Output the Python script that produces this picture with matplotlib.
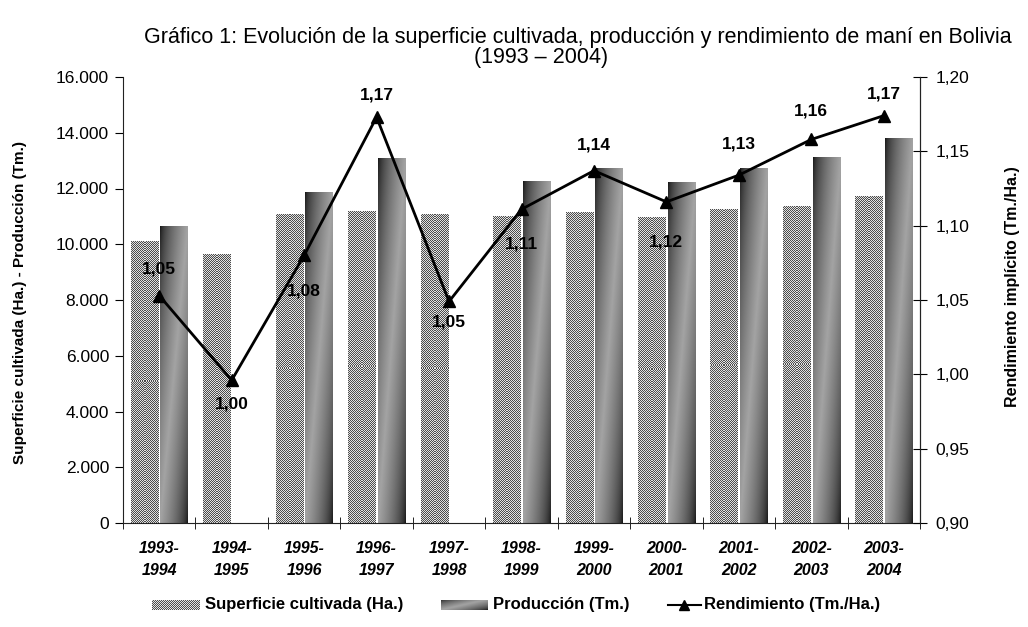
import numpy as np
import matplotlib
matplotlib.use('Agg')
import matplotlib.pyplot as plt
from matplotlib.lines import Line2D

plt.rcParams['font.family'] = ['Liberation Sans', 'DejaVu Sans']

# datos
periodos = ['1993-\n1994', '1994-\n1995', '1995-\n1996', '1996-\n1997', '1997-\n1998', '1998-\n1999',
            '1999-\n2000', '2000-\n2001', '2001-\n2002', '2002-\n2003', '2003-\n2004']
superficie = [10090, 9650, 11050, 11160, 11050, 11010, 11150, 10950, 11230, 11340, 11730]
produccion = [10630, np.nan, 11870, 13090, np.nan, 12250, 12700, 12230, 12700, 13130, 13780]
rendimiento = [1.053, 0.996, 1.080, 1.173, 1.049, 1.111, 1.137, 1.116, 1.134, 1.158, 1.174]

# desplazamiento vertical (px) de cada etiqueta de rendimiento
label_dy = [27, -24, -36, 22, -21, -35, 26, -40, 31, 28, 22]

W, H = 1028, 627
fig = plt.figure(figsize=(W / 100, H / 100), dpi=100)
ax = fig.add_axes([123 / W, 1 - 523 / H, 797 / W, 446 / H])

n = len(periodos)
x = np.arange(n)
bw = 0.375
off = 0.205
ax.set_xlim(-0.5, n - 0.5)
ax.set_ylim(0, 16000)
px_x = 797 / n
px_y = 446 / 16000


def checker(nx, ny):
    i, j = np.indices((ny, nx))
    return np.where((i + j) % 2 == 0, 0.30, 0.88)


def gradient(nx, ny):
    u = np.linspace(0, 1, nx)[None, :]
    v = np.linspace(0, 1, ny)[:, None]
    t = (u + 1 - v) / 2
    s = 1 - np.abs(2 * t - 1)
    return 0.07 + (0.64 - 0.07) * s ** 0.6


for xi, val in zip(x - off, superficie):
    nx = max(1, int(round(bw * px_x)))
    ny = max(1, int(round(val * px_y)))
    ax.imshow(checker(nx, ny), cmap='gray', vmin=0, vmax=1, origin='lower',
              extent=(xi - bw / 2, xi + bw / 2, 0, val), aspect='auto',
              interpolation='nearest', zorder=2)

for xi, val in zip(x + off, produccion):
    if np.isnan(val):
        continue
    ax.imshow(gradient(60, 200), cmap='gray', vmin=0, vmax=1, origin='lower',
              extent=(xi - bw / 2, xi + bw / 2, 0, val), aspect='auto',
              interpolation='bilinear', zorder=2)

ax.set_xlim(-0.5, n - 0.5)
ax.set_ylim(0, 16000)

# eje izquierdo
ax.set_yticks(np.arange(0, 16001, 2000))
ax.set_yticklabels([f'{v:,.0f}'.replace(',', '.') for v in np.arange(0, 16001, 2000)])
ax.tick_params(axis='y', direction='out', length=6, labelsize=12.5, pad=4)
ax.set_xticks(x)
ax.set_xticklabels(periodos, fontweight='bold', fontstyle='italic', fontsize=11.5, linespacing=1.55)
ax.tick_params(axis='x', length=0, pad=13)
ax.set_xticks(np.arange(-0.5, n, 1.0), minor=True)
ax.tick_params(axis='x', which='minor', direction='inout', length=8)
ax.spines['top'].set_visible(False)
for sp in ['left', 'bottom', 'right']:
    ax.spines[sp].set_color('#222222')
ax.set_ylabel('Superficie cultivada (Ha.) - Producción (Tm.)', fontweight='bold', fontsize=11)
ax.yaxis.set_label_coords(-0.121, 0.495)

# eje derecho
ax2 = ax.twinx()
ax2.set_ylim(0.9, 1.2)
ticks2 = np.arange(0.90, 1.2001, 0.05)
ax2.set_yticks(ticks2)
ax2.set_yticklabels([f'{v:.2f}'.replace('.', ',') for v in ticks2])
ax2.tick_params(axis='y', direction='inout', length=10, labelsize=12.5, pad=6)
for sp in ['top', 'left', 'bottom']:
    ax2.spines[sp].set_visible(False)
ax2.spines['right'].set_color('#222222')
ax2.set_ylabel('Rendimiento implícito (Tm./Ha.)', fontweight='bold', fontsize=11.5)
ax2.yaxis.set_label_coords(1.107, 0.53)

ax2.plot(x, rendimiento, color='black', lw=2, marker='^', ms=9, zorder=5)
for xi, r, dy in zip(x, rendimiento, label_dy):
    ax2.annotate(f'{r:.2f}'.replace('.', ','), (xi, r), xytext=(0, dy), textcoords='offset pixels',
                 ha='center', va='center', fontweight='bold', fontsize=12.5)

# titulo
fig.text(578 / W, 1 - 37 / H, 'Gráfico 1: Evolución de la superficie cultivada, producción y rendimiento de maní en Bolivia',
         ha='center', va='center', fontsize=15.5)
fig.text(541 / W, 1 - 57 / H, '(1993 – 2004)', ha='center', va='center', fontsize=15.5)

# leyenda
ly = 1 - 605 / H
sw_h = 11 / H
leg_fs = 12
fig.canvas.draw()
renderer = fig.canvas.get_renderer()


def leg_text(x0, s):
    t = fig.text(x0 / W, ly, s, ha='left', va='center', fontweight='bold', fontsize=leg_fs)
    return t.get_window_extent(renderer).x1


a1 = fig.add_axes([152 / W, ly - sw_h / 2, 48 / W, sw_h])
a1.imshow(checker(48, 11), cmap='gray', vmin=0, vmax=1, aspect='auto', interpolation='nearest')
a1.axis('off')
end1 = leg_text(205, 'Superficie cultivada (Ha.)')
s2 = end1 + 38
a2 = fig.add_axes([s2 / W, ly - sw_h / 2, 47 / W, sw_h])
a2.imshow(gradient(47, 30), cmap='gray', vmin=0, vmax=1, origin='lower', aspect='auto', interpolation='bilinear')
a2.axis('off')
end2 = leg_text(s2 + 52, 'Producción (Tm.)')
s3 = end2 + 38
fig.add_artist(Line2D([s3 / W, (s3 + 33) / W], [ly, ly], color='black', lw=1.5, transform=fig.transFigure))
fig.add_artist(Line2D([(s3 + 16.5) / W], [ly], color='black', marker='^', ms=7, transform=fig.transFigure))
leg_text(s3 + 36, 'Rendimiento (Tm./Ha.)')

fig.savefig('out.png', dpi=100)
